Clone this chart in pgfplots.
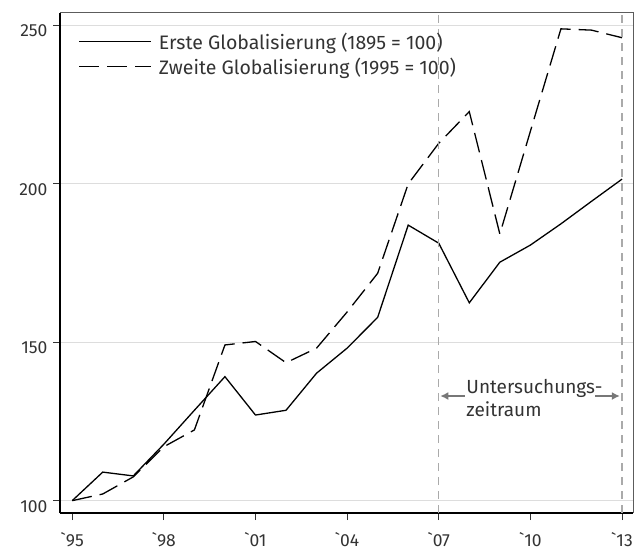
\documentclass[border=0pt]{standalone}
\usepackage{fontspec}
\setmainfont{Fira Sans}
\usepackage{pgfplots}
\pgfplotsset{compat=1.18}
\usetikzlibrary{arrows.meta}
\definecolor{txt}{HTML}{333333}
\definecolor{gridc}{HTML}{DDDDDD}
\definecolor{vline}{HTML}{AAAAAA}
\definecolor{arr}{HTML}{777777}
\begin{document}
\begin{tikzpicture}
\begin{axis}[
  scale only axis, width=573pt, height=500pt,
  xmin=1994.6, xmax=2013.36, ymin=96.1, ymax=253.8,
  axis x line*=bottom, axis y line*=left,
  axis line style={black, line width=1.2pt},
  xtick={1995,1998,2001,2004,2007,2010,2013},
  xticklabels={\textasciigrave95,\textasciigrave98,\textasciigrave01,\textasciigrave04,\textasciigrave07,\textasciigrave10,\textasciigrave13},
  ytick={100,150,200,250},
  tick align=outside, major tick length=7pt,
  tick style={txt, line width=1pt},
  ymajorgrids, grid style={gridc, line width=1pt},
  ticklabel style={font=\fontsize{17.5}{19}\selectfont, text=txt},
  /pgf/number format/assume math mode=true,
  yticklabel style={xshift=-2pt, yshift=-6pt},
  xticklabel style={yshift=-9pt},
  legend style={draw=none, fill=none, at={(rel axis cs:0.027,0.969)}, anchor=north west,
    font=\fontsize{19.5}{22}\selectfont, text=txt, row sep=3pt,
    /tikz/every odd column/.append style={column sep=5pt}},
  legend cell align=left,
  legend image code/.code={\draw[#1] (0pt,0pt) -- (72pt,0pt);},
  clip=false,
]
\addplot[black, line width=1.3pt] coordinates {
(1995,100) (1996,109.0) (1997,107.8) (1998,117.8) (1999,128.5) (2000,139.1)
(2001,127.0) (2002,128.5) (2003,140.2) (2004,148.1) (2005,157.8) (2006,186.9)
(2007,181.2) (2008,162.4) (2009,175.2) (2010,180.6) (2011,187.3) (2012,194.4) (2013,201.4)};
\addlegendentry{Erste Globalisierung (1895 = 100)}
\addplot[black, line width=1.3pt, dash pattern=on 20pt off 8pt] coordinates {
(1995,100) (1996,102.1) (1997,107.5) (1998,117.0) (1999,122.3) (2000,149.1)
(2001,150.2) (2002,143.5) (2003,148.1) (2004,159.5) (2005,171.7) (2006,199.9)
(2007,212.7) (2008,222.7) (2009,184.1) (2010,216.5) (2011,248.8) (2012,248.4) (2013,246.0)};
\addlegendentry{Zweite Globalisierung (1995 = 100)}
\draw[vline, line width=1.3pt, dash pattern=on 8pt off 6pt] (axis cs:2007,96.1) -- (axis cs:2007,253.8);
\draw[vline, line width=1.3pt, dash pattern=on 8pt off 6pt] (axis cs:2013,96.1) -- (axis cs:2013,253.8);
\draw[txt!80, line width=1pt] (rel axis cs:0,1) -- (rel axis cs:1,1) -- (rel axis cs:1,0);
\draw[arr, line width=2pt, -{Latex[length=8pt,width=8pt]}] (axis cs:2007.85,133.0) -- (axis cs:2007.05,133.0);
\draw[arr, line width=2pt, -{Latex[length=8pt,width=8pt]}] (axis cs:2012.12,133.0) -- (axis cs:2012.93,133.0);
\node[anchor=west, align=left, inner sep=0pt, text=txt, font=\fontsize{19}{23}\selectfont] at (axis cs:2007.9,132.4) {Untersuchungs-\\zeitraum};
\coordinate (sw) at (rel axis cs:0,0);
\coordinate (ne) at (rel axis cs:1,1);
\end{axis}
\pgfresetboundingbox
\path ([xshift=-60pt,yshift=-37pt]sw) rectangle ([xshift=3pt,yshift=13pt]ne);
\end{tikzpicture}
\end{document}
